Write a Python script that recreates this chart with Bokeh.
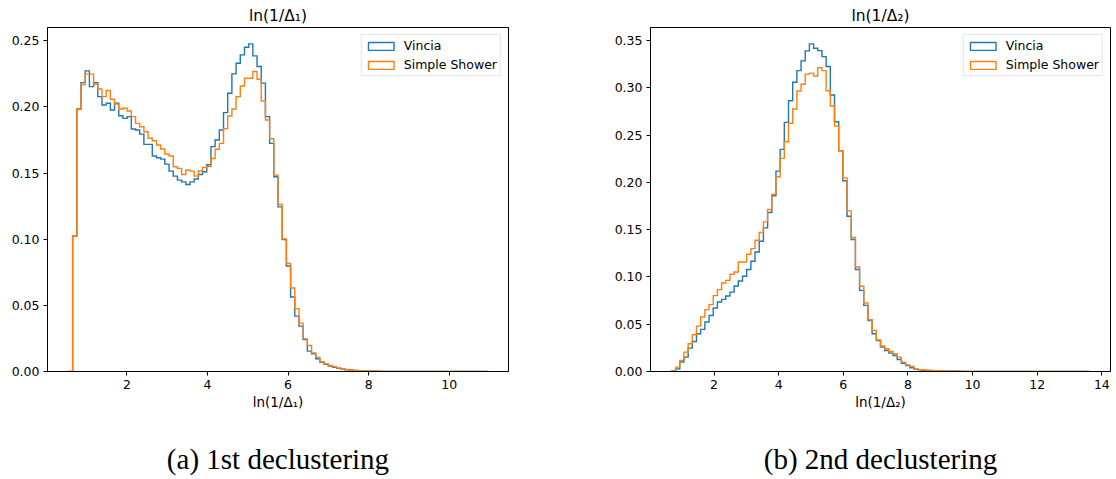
import numpy as np
from bokeh.plotting import figure
from bokeh.layouts import row
from bokeh.models import (Range1d, FixedTicker, PrintfTickFormatter, Legend,
                          LegendItem, ColumnDataSource, Title, LinearAxis)
from bokeh.embed import file_html
from bokeh.resources import INLINE

BLUE = "#1f77b4"
ORANGE = "#ff7f0e"
FONT = "DejaVu Sans"
SERIF = "Liberation Serif"

series_labels = ["Vincia", "Simple Shower"]

# ---- 1st declustering: 100 bins from 0.55 to 10.95 ----
edges1_start, edges1_stop, nbins1 = 0.55, 10.95, 100
vincia1 = [0.0, 0.1025, 0.1985, 0.2184, 0.2273, 0.2154, 0.2184, 0.2078, 0.2015, 0.2028,
           0.1977, 0.2028, 0.1934, 0.1914, 0.1927, 0.1833, 0.1826, 0.1795, 0.1717, 0.1717,
           0.1629, 0.1616, 0.1606, 0.1568, 0.1515, 0.1477, 0.1447, 0.1434, 0.1414, 0.1434,
           0.1455, 0.1490, 0.1510, 0.1563, 0.1700, 0.1750, 0.1826, 0.1957, 0.2104, 0.2250,
           0.2331, 0.2394, 0.2452, 0.2477, 0.2386, 0.2306, 0.2180, 0.1927, 0.1725, 0.1472,
           0.1245, 0.0997, 0.0798, 0.0563, 0.0419, 0.0343, 0.0242, 0.0154, 0.0134, 0.0096,
           0.0070, 0.0055, 0.0042, 0.0032, 0.0024, 0.0018, 0.0013, 0.0010, 0.0007, 0.0005,
           0.0004, 0.0003, 0.0002, 0.00015, 0.0001, 0.00005, 0.00005, 0.00005, 0.00004, 0.00003,
           0.0, 0.0, 0.0, 0.0, 0.0, 0.0, 0.0, 0.0, 0.0, 0.0,
           0.0, 0.0, 0.0, 0.0, 0.0, 0.0, 0.0, 0.0, 0.0, 0.0]
simple1 = [0.0, 0.1025, 0.1985, 0.2167, 0.2248, 0.2248, 0.2172, 0.2136, 0.2078, 0.2124,
           0.2058, 0.2023, 0.1985, 0.1990, 0.1970, 0.1927, 0.1876, 0.1851, 0.1813, 0.1763,
           0.1745, 0.1712, 0.1682, 0.1644, 0.1629, 0.1548, 0.1536, 0.1490, 0.1523, 0.1515,
           0.1477, 0.1518, 0.1543, 0.1550, 0.1610, 0.1680, 0.1725, 0.1836, 0.1932, 0.1985,
           0.2078, 0.2159, 0.2217, 0.2217, 0.2268, 0.2210, 0.2045, 0.1902, 0.1760, 0.1485,
           0.1263, 0.1003, 0.0816, 0.0631, 0.0475, 0.0366, 0.0247, 0.0197, 0.0140, 0.0109,
           0.0073, 0.0058, 0.0045, 0.0035, 0.0027, 0.0020, 0.0015, 0.0011, 0.0008, 0.0006,
           0.0005, 0.0004, 0.0003, 0.0002, 0.00015, 0.0001, 0.00008, 0.00006, 0.00005, 0.00004,
           0.0, 0.0, 0.0, 0.0, 0.0, 0.0, 0.0, 0.0, 0.0, 0.0,
           0.0, 0.0, 0.0, 0.0, 0.0, 0.0, 0.0, 0.0, 0.0, 0.0]

# ---- 2nd declustering: 100 bins from 0.68 to 13.62 ----
edges2_start, edges2_stop, nbins2 = 0.68, 13.62, 100
vincia2 = [0.0003, 0.0028, 0.0100, 0.0152, 0.0247, 0.0318, 0.0400, 0.0445, 0.0523, 0.0593,
           0.0671, 0.0735, 0.0763, 0.0798, 0.0840, 0.0904, 0.0957, 0.1007, 0.1078, 0.1166,
           0.1264, 0.1378, 0.1519, 0.1681, 0.1858, 0.2119, 0.2349, 0.2635, 0.2864, 0.3059,
           0.3182, 0.3285, 0.3391, 0.3465, 0.3419, 0.3394, 0.3330, 0.3225, 0.2925, 0.2642,
           0.2334, 0.2017, 0.1642, 0.1396, 0.1078, 0.0858, 0.0699, 0.0540, 0.0399, 0.0328,
           0.0258, 0.0222, 0.0194, 0.0170, 0.0127, 0.0088, 0.0064, 0.0039, 0.0025, 0.0018,
           0.0014, 0.0011, 0.0009, 0.0007, 0.0005, 0.0004, 0.0003, 0.0002, 0.0002, 0.0001,
           0.00005, 0.00005, 0.00004, 0.00003, 0.00002, 0.0, 0.0, 0.0, 0.0, 0.0,
           0.0, 0.0, 0.0, 0.0, 0.0, 0.0, 0.0, 0.0, 0.0, 0.0,
           0.0, 0.0, 0.0, 0.0, 0.0, 0.0, 0.0, 0.0, 0.0, 0.0]
simple2 = [0.0005, 0.0046, 0.0117, 0.0205, 0.0293, 0.0389, 0.0480, 0.0576, 0.0654, 0.0707,
           0.0802, 0.0866, 0.0936, 0.0964, 0.1028, 0.1052, 0.1158, 0.1158, 0.1240, 0.1300,
           0.1388, 0.1470, 0.1582, 0.1713, 0.1872, 0.2059, 0.2254, 0.2430, 0.2625, 0.2776,
           0.2967, 0.3038, 0.3145, 0.3156, 0.3126, 0.3214, 0.3182, 0.2970, 0.2808, 0.2596,
           0.2334, 0.2048, 0.1699, 0.1417, 0.1105, 0.0901, 0.0724, 0.0548, 0.0434, 0.0335,
           0.0269, 0.0240, 0.0212, 0.0187, 0.0152, 0.0099, 0.0070, 0.0053, 0.0028, 0.0020,
           0.0016, 0.0012, 0.0010, 0.0008, 0.0006, 0.0005, 0.0004, 0.0003, 0.0002, 0.0002,
           0.0001, 0.0001, 0.00008, 0.00006, 0.00004, 0.0, 0.0, 0.0, 0.0, 0.0,
           0.0, 0.0, 0.0, 0.0, 0.0, 0.0, 0.0, 0.0, 0.0, 0.0,
           0.0, 0.0, 0.0, 0.0, 0.0, 0.0, 0.0, 0.0, 0.0, 0.0]

xticks1 = [2, 4, 6, 8, 10]
yticks1 = [0.00, 0.05, 0.10, 0.15, 0.20, 0.25]
xticks2 = [2, 4, 6, 8, 10, 12, 14]
yticks2 = [0.00, 0.05, 0.10, 0.15, 0.20, 0.25, 0.30, 0.35]

titles = ["ln(1/Δ₁)", "ln(1/Δ₂)"]
captions = ["(a) 1st declustering", "(b) 2nd declustering"]

FS = "12.5px"
AXL_FS = "13.5px"
TITLE_FS = "15.5px"


def step_xy(edges, vals):
    e = np.asarray(edges, dtype=float)
    v = np.asarray(vals, dtype=float)
    xs = np.repeat(e, 2)
    ys = np.concatenate([[0.0], np.repeat(v, 2), [0.0]])
    return xs, ys


def make_panel(edges, series, xticks, yticks, title, caption, width, bl, br):
    lo, hi = float(edges[0]), float(edges[-1])
    pad = 0.05 * (hi - lo)
    ymax = max(max(s) for s in series) * 1.05
    ttl = Title(text=title, align="center", text_font=FONT, text_font_size=TITLE_FS,
                text_font_style="normal", text_color="black", standoff=5)
    p = figure(width=width, height=479, output_backend="svg", toolbar_location=None,
               title=ttl,
               x_range=Range1d(lo - pad, hi + pad), y_range=Range1d(0, ymax),
               min_border_left=bl, min_border_right=br, min_border_top=27,
               min_border_bottom=108)
    p.background_fill_color = "white"
    p.border_fill_color = "white"
    p.outline_line_color = "black"
    p.outline_line_width = 1
    p.outline_line_alpha = 1
    p.grid.visible = False

    for ax in (p.xaxis, p.yaxis):
        ax.axis_line_color = "black"
        ax.major_tick_line_color = "black"
        ax.major_tick_in = 0
        ax.major_tick_out = 4
        ax.minor_tick_line_color = None
        ax.major_label_text_font = FONT
        ax.major_label_text_font_size = FS
        ax.major_label_text_color = "black"
        ax.major_label_standoff = 4
        ax.axis_label_text_font = FONT
        ax.axis_label_text_font_size = AXL_FS
        ax.axis_label_text_font_style = "normal"
        ax.axis_label_text_color = "black"
    p.xaxis.ticker = FixedTicker(ticks=xticks)
    p.yaxis.ticker = FixedTicker(ticks=yticks)
    p.xaxis.formatter = PrintfTickFormatter(format="%d")
    p.yaxis.formatter = PrintfTickFormatter(format="%.2f")
    p.xaxis.axis_label = title
    p.xaxis.axis_label_standoff = 2

    colors = [BLUE, ORANGE]
    items = []
    for vals, col, lab in zip(series, colors, series_labels):
        xs, ys = step_xy(edges, vals)
        p.line(xs, ys, line_color=col, line_width=1.4, line_join="miter")
        # legend-only proxy (NaN => nothing drawn in the plot area)
        leg_src = ColumnDataSource(dict(left=[np.nan], right=[np.nan],
                                        top=[np.nan], bottom=[np.nan]))
        r = p.quad(left="left", right="right", top="top", bottom="bottom", source=leg_src,
                   fill_alpha=0, line_color=col, line_width=1.4)
        items.append(LegendItem(label=lab, renderers=[r]))

    legend = Legend(items=items, location="top_right")
    legend.margin = 7
    legend.padding = 3
    legend.spacing = 4
    legend.glyph_width = 32
    legend.glyph_height = 10
    legend.label_height = 15
    legend.label_standoff = 7
    legend.label_text_font = FONT
    legend.label_text_font_size = FS
    legend.label_text_color = "black"
    legend.border_line_color = "#cccccc"
    legend.border_line_width = 1
    legend.background_fill_alpha = 0.8
    p.add_layout(legend)

    # sub-figure caption as a bare axis label below the x-axis
    cap = LinearAxis(ticker=FixedTicker(ticks=[]), axis_label=caption,
                     axis_line_color=None, major_tick_line_color=None,
                     minor_tick_line_color=None, major_tick_out=0, major_tick_in=0,
                     major_label_standoff=0, axis_label_standoff=30,
                     axis_label_text_font=SERIF, axis_label_text_font_size="29px",
                     axis_label_text_font_style="normal", axis_label_text_color="black")
    p.add_layout(cap, "below")
    return p


edges1 = np.linspace(edges1_start, edges1_stop, nbins1 + 1)
edges2 = np.linspace(edges2_start, edges2_stop, nbins2 + 1)

p1 = make_panel(edges1, [vincia1, simple1], xticks1, yticks1, titles[0], captions[0],
                558, 47, 50)
p2 = make_panel(edges2, [vincia2, simple2], xticks2, yticks2, titles[1], captions[1],
                558, 92, 6)

layout = row(p1, p2)
open("out.html", "w").write(file_html(layout, INLINE))
